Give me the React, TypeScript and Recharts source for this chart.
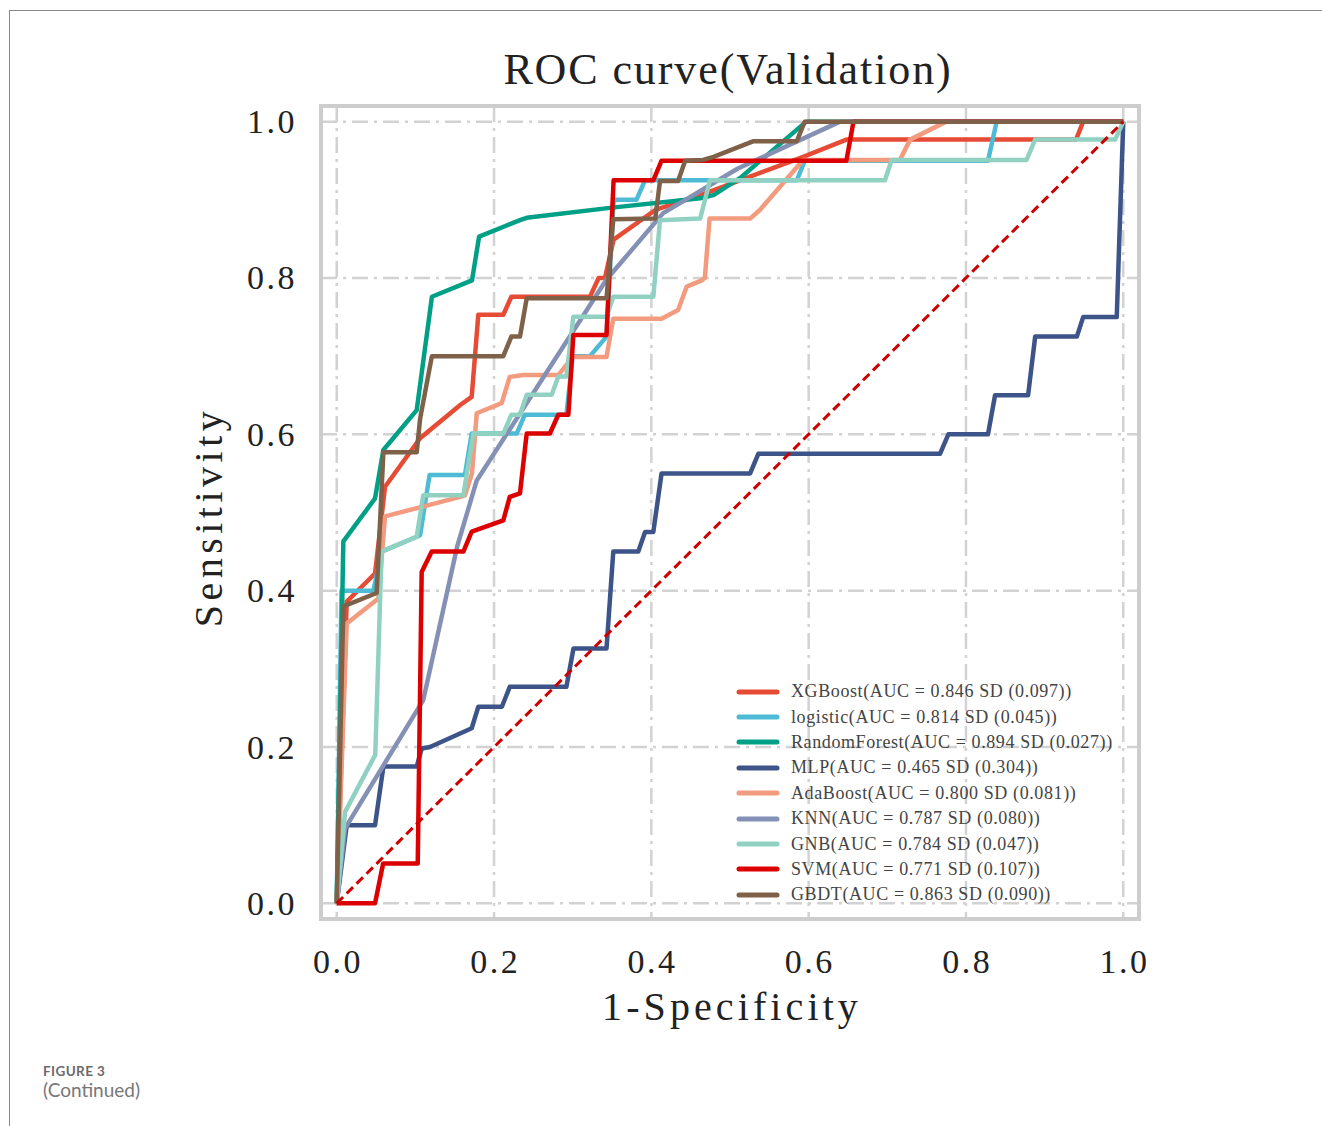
import React from 'react';
import { LineChart, Line, XAxis, YAxis, CartesianGrid, Legend } from 'recharts';

// ROC points (1-specificity, sensitivity)
const xgbFpr = [0, 0.0127, 0.0487, 0.0614, 0.106, 0.157, 0.1716, 0.18, 0.2118, 0.222, 0.322, 0.333, 0.341, 0.352, 0.405, 0.46, 0.593, 0.648, 0.94, 0.949, 1];
const xgbTpr = [0, 0.386, 0.422, 0.533, 0.595, 0.6375, 0.648, 0.753, 0.753, 0.776, 0.776, 0.8, 0.8, 0.849, 0.887, 0.905, 0.955, 0.977, 0.977, 1, 1];

const logFpr = [0, 0.006, 0.0466, 0.057, 0.1017, 0.106, 0.118, 0.163, 0.1716, 0.2288, 0.239, 0.2817, 0.292, 0.3, 0.322, 0.343, 0.352, 0.381, 0.392, 0.585, 0.595, 0.828, 0.839, 1];
const logTpr = [0, 0.4, 0.4, 0.45, 0.469, 0.471, 0.548, 0.548, 0.601, 0.601, 0.625, 0.625, 0.625, 0.7, 0.7, 0.725, 0.9, 0.9, 0.925, 0.925, 0.95, 0.95, 1, 1];

const rfFpr = [0, 0.0084, 0.0487, 0.0593, 0.1017, 0.121, 0.172, 0.181, 0.233, 0.2415, 0.35, 0.462, 0.479, 0.513, 0.597, 1];
const rfTpr = [0, 0.463, 0.518, 0.58, 0.631, 0.776, 0.797, 0.853, 0.874, 0.877, 0.89, 0.902, 0.906, 0.928, 1, 1];

const mlpFpr = [0, 0.0127, 0.0487, 0.0593, 0.1017, 0.108, 0.1186, 0.1716, 0.18, 0.21, 0.22, 0.292, 0.301, 0.343, 0.3516, 0.3834, 0.392, 0.4025, 0.413, 0.5256, 0.536, 0.767, 0.7776, 0.828, 0.837, 0.879, 0.888, 0.941, 0.949, 0.9917, 1];
const mlpTpr = [0, 0.1, 0.1, 0.175, 0.175, 0.198, 0.2, 0.224, 0.2515, 0.2515, 0.277, 0.277, 0.326, 0.326, 0.45, 0.45, 0.475, 0.475, 0.55, 0.55, 0.575, 0.575, 0.6, 0.6, 0.65, 0.65, 0.725, 0.725, 0.75, 0.75, 1];

const adaFpr = [0, 0.0127, 0.053, 0.0614, 0.157, 0.163, 0.172, 0.178, 0.2097, 0.22, 0.237, 0.282, 0.3, 0.343, 0.3516, 0.413, 0.434, 0.445, 0.464, 0.468, 0.474, 0.5256, 0.538, 0.593, 0.716, 0.729, 0.775, 1];
const adaTpr = [0, 0.358, 0.39, 0.495, 0.52, 0.522, 0.55, 0.627, 0.64, 0.6735, 0.676, 0.676, 0.699, 0.699, 0.748, 0.748, 0.759, 0.789, 0.797, 0.8, 0.876, 0.876, 0.887, 0.951, 0.951, 0.977, 1, 1];

const knnFpr = [0, 0.0106, 0.11, 0.153, 0.178, 0.343, 0.415, 0.51, 0.64, 1];
const knnTpr = [0, 0.096, 0.26, 0.456, 0.541, 0.798, 0.883, 0.94, 1, 1];

const gnbFpr = [0, 0.0106, 0.049, 0.057, 0.1017, 0.11, 0.161, 0.1737, 0.2118, 0.222, 0.233, 0.2415, 0.2733, 0.2817, 0.292, 0.3008, 0.343, 0.3516, 0.4025, 0.411, 0.462, 0.4746, 0.697, 0.7055, 0.877, 0.888, 0.9897, 1];
const gnbTpr = [0, 0.117, 0.19, 0.45, 0.469, 0.522, 0.522, 0.601, 0.601, 0.625, 0.625, 0.6505, 0.6505, 0.674, 0.674, 0.7505, 0.7505, 0.776, 0.776, 0.874, 0.876, 0.925, 0.925, 0.951, 0.951, 0.977, 0.977, 1];

const svmFpr = [0, 0.0487, 0.059, 0.103, 0.108, 0.1208, 0.161, 0.1716, 0.2118, 0.22, 0.233, 0.2415, 0.271, 0.2817, 0.2945, 0.3008, 0.343, 0.352, 0.4025, 0.413, 0.648, 0.657, 1];
const svmTpr = [0, 0, 0.051, 0.051, 0.424, 0.45, 0.45, 0.4755, 0.49, 0.52, 0.5245, 0.601, 0.601, 0.625, 0.625, 0.727, 0.727, 0.925, 0.925, 0.95, 0.95, 1, 1];

const gbdtFpr = [0, 0.0084, 0.0508, 0.0593, 0.1017, 0.106, 0.121, 0.2118, 0.222, 0.233, 0.2415, 0.343, 0.3516, 0.405, 0.411, 0.434, 0.443, 0.466, 0.479, 0.53, 0.585, 0.595, 1];
const gbdtTpr = [0, 0.38, 0.397, 0.577, 0.577, 0.62, 0.7, 0.7, 0.725, 0.725, 0.774, 0.774, 0.875, 0.876, 0.924, 0.924, 0.95, 0.951, 0.955, 0.975, 0.975, 1, 1];

const chanceFpr = [0, 1];
const chanceTpr = [0, 1];

const modelNames = ['XGBoost', 'logistic', 'RandomForest', 'MLP', 'AdaBoost', 'KNN', 'GNB', 'SVM', 'GBDT'];
const aucValues = ['0.846', '0.814', '0.894', '0.465', '0.800', '0.787', '0.784', '0.771', '0.863'];
const sdValues = ['0.097', '0.045', '0.027', '0.304', '0.081', '0.080', '0.047', '0.107', '0.090'];
const colors = ['#E64B35', '#4DBBD5', '#00A087', '#3C5488', '#F39B7F', '#8491B4', '#91D1C2', '#DC0000', '#7E6148'];
const axisTicks = [0, 0.2, 0.4, 0.6, 0.8, 1.0];

const fprs = [xgbFpr, logFpr, rfFpr, mlpFpr, adaFpr, knnFpr, gnbFpr, svmFpr, gbdtFpr];
const tprs = [xgbTpr, logTpr, rfTpr, mlpTpr, adaTpr, knnTpr, gnbTpr, svmTpr, gbdtTpr];

const toPoints = (xs: number[], ys: number[]) => xs.map((x, i) => ({ x, y: ys[i] }));
const legendLabel = (i: number) => `${modelNames[i]}(AUC = ${aucValues[i]} SD (${sdValues[i]}))`;

const SERIF = '"Liberation Serif", "DejaVu Serif", serif';

const XTick = (props: any) => {
  const { x, y, payload } = props;
  return (
    <text x={x + 1.2} y={y + 54} textAnchor="middle" fontSize={34} letterSpacing={2.5} fill="#222" fontFamily={SERIF}>
      {payload.value.toFixed(1)}
    </text>
  );
};

const YTick = (props: any) => {
  const { x, y, payload } = props;
  return (
    <text x={x - 24} y={y + 11.5} textAnchor="end" fontSize={34} letterSpacing={2.5} fill="#222" fontFamily={SERIF}>
      {payload.value.toFixed(1)}
    </text>
  );
};

// keep plotting order in the legend (recharts sorts the payload by default)
const renderLegend = () => (
  <div>
    {modelNames.map((name, i) => (
      <div key={name} style={{ height: 25.4, display: 'flex', alignItems: 'center' }}>
        <svg width={46} height={10} style={{ display: 'block' }}>
          <line x1={3} y1={5} x2={41} y2={5} stroke={colors[i]} strokeWidth={5} strokeLinecap="round" />
        </svg>
        <span style={{ marginLeft: 9, fontFamily: SERIF, fontSize: 18, letterSpacing: 0.6, color: '#444', whiteSpace: 'nowrap' }}>
          {legendLabel(i)}
        </span>
      </div>
    ))}
  </div>
);

export default function App() {
  return (
    <div style={{ position: 'absolute', left: 0, top: 0, width: 1322, height: 1126, background: '#fff', overflow: 'hidden' }}>
      {/* page frame from the journal layout */}
      <div style={{ position: 'absolute', left: 9, top: 10, width: 1320, height: 1120, borderTop: '1px solid #8a8a8a', borderLeft: '1px solid #8a8a8a' }} />

      <LineChart width={1322} height={1126} margin={{ top: 106, right: 183, bottom: 0, left: 0 }}>
        <CartesianGrid stroke="#d2d2d2" strokeWidth={2.5} strokeDasharray="16 6 3 6" />
        <XAxis
          type="number"
          dataKey="x"
          domain={[-0.02, 1.02]}
          ticks={axisTicks}
          allowDataOverflow
          interval={0}
          axisLine={false}
          tickLine={false}
          tickSize={0}
          tickMargin={0}
          height={207}
          tick={XTick}
        />
        <YAxis
          type="number"
          dataKey="y"
          domain={[-0.02, 1.02]}
          ticks={axisTicks}
          allowDataOverflow
          interval={0}
          axisLine={false}
          tickLine={false}
          tickSize={0}
          tickMargin={0}
          width={321}
          tick={YTick}
        />
        <Legend
          layout="vertical"
          align="center"
          verticalAlign="middle"
          content={renderLegend}
          wrapperStyle={{ left: 736, top: 679, width: 420 }}
        />
        {modelNames.map((name, i) => (
          <Line
            key={name}
            data={toPoints(fprs[i], tprs[i])}
            dataKey="y"
            name={legendLabel(i)}
            type="linear"
            stroke={colors[i]}
            strokeWidth={4.5}
            strokeLinejoin="round"
            dot={false}
            activeDot={false}
            isAnimationActive={false}
          />
        ))}
        <Line
          data={toPoints(chanceFpr, chanceTpr)}
          dataKey="y"
          name="chance"
          legendType="none"
          type="linear"
          stroke="#CC0000"
          strokeWidth={3}
          strokeDasharray="9 5"
          dot={false}
          activeDot={false}
          isAnimationActive={false}
        />
      </LineChart>

      {/* light grey box round the axes */}
      <div style={{ position: 'absolute', left: 319, top: 104, width: 822, height: 817, border: '4px solid #cdcdcd', boxSizing: 'border-box', pointerEvents: 'none' }} />

      <svg width={1322} height={1126} style={{ position: 'absolute', left: 0, top: 0, pointerEvents: 'none' }}>
        <text x={728} y={84} textAnchor="middle" fontSize={44} letterSpacing={1.9} fill="#222" fontFamily={SERIF}>
          ROC curve(Validation)
        </text>
        <text x={732} y={1020} textAnchor="middle" fontSize={40} letterSpacing={4.1} fill="#222" fontFamily={SERIF}>
          1-Specificity
        </text>
        <text x={222} y={517} textAnchor="middle" fontSize={40} letterSpacing={4.5} fill="#222" fontFamily={SERIF} transform="rotate(-90, 222, 517)">
          Sensitivity
        </text>
        <text x={43} y={1076} fontSize={13.5} fontWeight={700} letterSpacing={0.4} fill="#6b6b6b" fontFamily="Lato, 'Open Sans', sans-serif">
          FIGURE 3
        </text>
        <text x={43} y={1097} fontSize={19} fill="#777" fontFamily="Lato, 'Open Sans', sans-serif">
          (Continued)
        </text>
      </svg>
    </div>
  );
}
